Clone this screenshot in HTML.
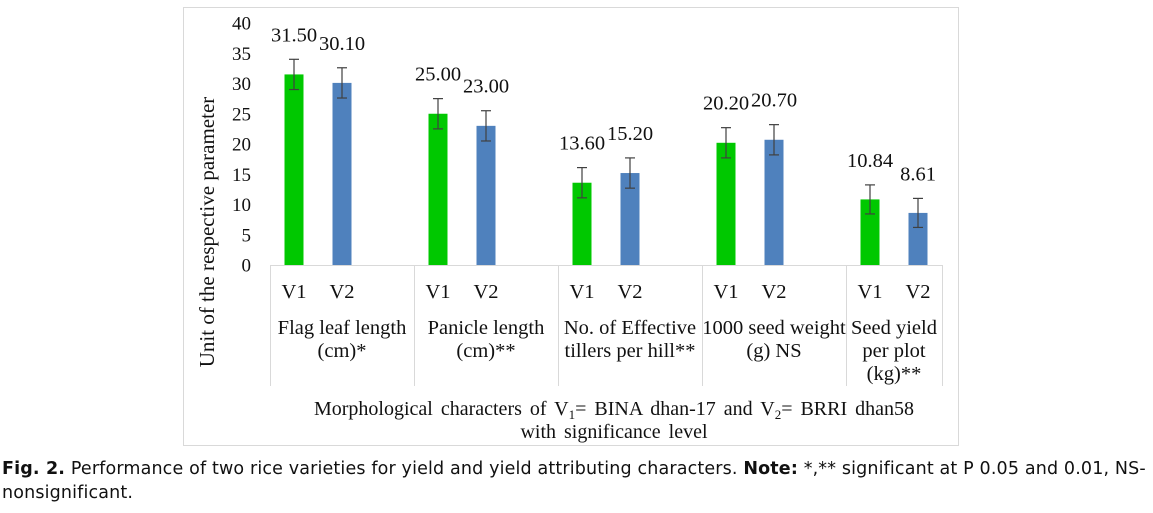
<!DOCTYPE html>
<html><head><meta charset="utf-8"><style>
body{margin:0;background:#fff;width:1153px;height:513px;overflow:hidden;position:relative}
svg{position:absolute;left:0;top:0}
svg text{font-family:"Liberation Serif","Times New Roman",serif}
.cap{position:absolute;left:2px;font-family:"DejaVu Sans",Verdana,sans-serif;font-size:17.5px;color:#111;white-space:nowrap;letter-spacing:0.15px}
</style></head><body>
<svg id="chart" width="1153" height="513"></svg>
<div class="cap" style="top:459px"><b>Fig. 2.</b> Performance of two rice varieties for yield and yield attributing characters. <b>Note:</b> *,** significant at P 0.05 and 0.01, NS-</div>
<div class="cap" style="top:483px">nonsignificant.</div>
<script>
const groups=[["Flag leaf length","(cm)*"],["Panicle length","(cm)**"],["No. of Effective","tillers per hill**"],["1000 seed weight","(g) NS"],["Seed yield","per plot","(kg)**"]];
const v1=[31.50,25.00,13.60,20.20,10.84];
const v2=[30.10,23.00,15.20,20.70,8.61];
const err1=[2.5,2.5,2.5,2.5,2.4];
const err2=[2.5,2.5,2.5,2.5,2.4];
const labels1=["31.50","25.00","13.60","20.20","10.84"];
const labels2=["30.10","23.00","15.20","20.70","8.61"];
const yTicks=[0,5,10,15,20,25,30,35,40];
const NS="http://www.w3.org/2000/svg";
const svg=document.getElementById('chart');
const y0=265,pxu=6.05,x0=270,slot=48,bw=19;
const Y=v=>y0-v*pxu;
const slotX=i=>x0+slot*i+slot/2;
const FS='font-family:"Liberation Serif",serif';
function mk(t,a,p){const e=document.createElementNS(NS,t);for(const k in a)e.setAttribute(k,a[k]);if(t==='text')e.setAttribute('style',FS);(p||svg).appendChild(e);return e;}
let fr=mk('rect',{x:183.5,y:7.5,width:775,height:438,fill:'none',stroke:'#d9d9d9'});


yTicks.forEach(t=>{let e=mk('text',{x:251,y:Y(t)+6.5,'text-anchor':'end','font-size':19,fill:'#111'});e.textContent=t;

});
let ax=mk('line',{x1:x0,y1:y0+0.5,x2:x0+slot*14,y2:y0+0.5,stroke:'#d9d9d9'});


const seps=[0,3,6,9,12,14];
seps.forEach(s=>{let e=mk('line',{x1:x0+slot*s+0.5,y1:y0,x2:x0+slot*s+0.5,y2:386,stroke:'#d9d9d9'});

});
groups.forEach((g,i)=>{
 [[v1,err1,labels1,'#00c800','V1',0],[v2,err2,labels2,'#4f81bd','V2',1]].forEach(([vals,er,lb,col,nm,k])=>{
  const cx=slotX(i*3+k),v=vals[i];
  let r=mk('rect',{x:cx-bw/2,y:Y(v),width:bw,height:v*pxu,fill:col});
  
  
  const eg=mk('g',{stroke:'#404040','stroke-width':1.2});
  
  
  mk('line',{x1:cx,y1:Y(v+er[i]),x2:cx,y2:Y(v-er[i])},eg);
  mk('line',{x1:cx-5,y1:Y(v+er[i]),x2:cx+5,y2:Y(v+er[i])},eg);
  mk('line',{x1:cx-5,y1:Y(v-er[i]),x2:cx+5,y2:Y(v-er[i])},eg);
  let t=mk('text',{x:cx,y:Y(v+er[i])-18,'text-anchor':'middle','font-size':20.5,fill:'#111'});t.textContent=lb[i];
  
  
  let c=mk('text',{x:cx,y:298,'text-anchor':'middle','font-size':20.5,fill:'#111'});c.textContent=nm;
  
  
 });
 const gc=i<4?x0+slot*(i*3)+72:x0+slot*12+48;
 g.forEach((ln,j)=>{let t=mk('text',{x:gc,y:334+j*23,'text-anchor':'middle','font-size':20.5,fill:'#111'});t.textContent=ln;
 
 });
});
let yt=mk('text',{transform:'translate(214,232) rotate(-90)','text-anchor':'middle','font-size':21,fill:'#111'});yt.textContent='Unit of the respective parameter';


let xt=mk('text',{x:614,y:415,'text-anchor':'middle','font-size':20,fill:'#111','word-spacing':3});
xt.innerHTML='Morphological characters of V<tspan font-size="13" dy="4">1</tspan><tspan dy="-4">= BINA dhan-17 and V</tspan><tspan font-size="13" dy="4">2</tspan><tspan dy="-4">= BRRI dhan58</tspan>';


let xt2=mk('text',{x:614,y:438,'text-anchor':'middle','font-size':20,fill:'#111','word-spacing':3});xt2.textContent='with significance level';


</script>
</body></html>
